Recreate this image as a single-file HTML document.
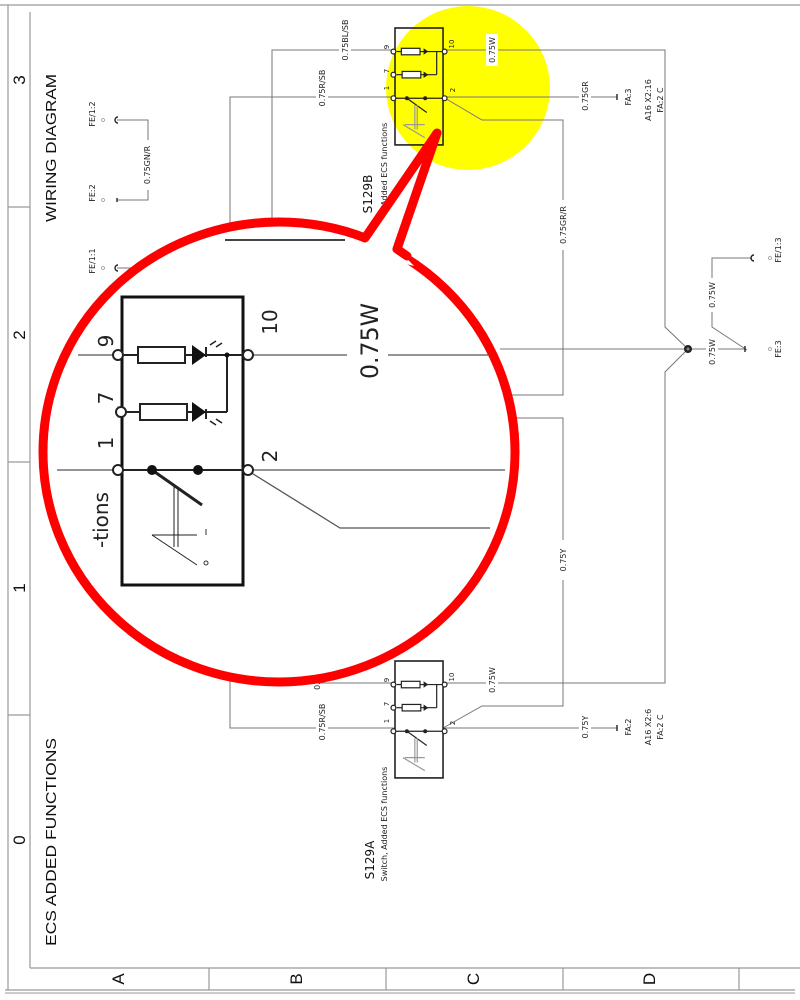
<!DOCTYPE html>
<html><head><meta charset="utf-8"><style>
html,body{margin:0;padding:0;background:#fff;}
svg{display:block;font-family:"DejaVu Sans","Liberation Sans",sans-serif;}
</style></head><body>
<svg width="800" height="1000" viewBox="0 0 800 1000" xmlns="http://www.w3.org/2000/svg">
<rect width="800" height="1000" fill="#fff"/>
<!-- frame -->
<g stroke="#999" stroke-width="1.2" fill="none">
<line x1="0" y1="5" x2="800" y2="5"/>
<line x1="8" y1="5" x2="8" y2="990"/>
<line x1="30" y1="12" x2="30" y2="968"/>
<line x1="8" y1="207" x2="30" y2="207"/>
<line x1="8" y1="462" x2="30" y2="462"/>
<line x1="8" y1="715" x2="30" y2="715"/>
<line x1="30" y1="968" x2="800" y2="968"/>
<line x1="5" y1="990" x2="795" y2="990"/>
<line x1="209" y1="968" x2="209" y2="990"/>
<line x1="386" y1="968" x2="386" y2="990"/>
<line x1="563" y1="968" x2="563" y2="990"/>
<line x1="739" y1="968" x2="739" y2="990"/>
</g>
<line x1="5" y1="993" x2="795" y2="993" stroke="#ccc" stroke-width="2"/>
<g font-family="Liberation Sans,sans-serif" font-size="17" fill="#111" text-anchor="middle">
<text transform="translate(25,80) rotate(-90)">3</text>
<text transform="translate(25,335) rotate(-90)">2</text>
<text transform="translate(25,588) rotate(-90)">1</text>
<text transform="translate(25,840) rotate(-90)">0</text>
<text transform="translate(124,979) rotate(-90)">A</text>
<text transform="translate(302,979) rotate(-90)">B</text>
<text transform="translate(479,979) rotate(-90)">C</text>
<text transform="translate(655,979) rotate(-90)">D</text>
</g>
<g font-family="Liberation Sans,sans-serif" font-size="15" fill="#111">
<text transform="translate(56,222) rotate(-90)" textLength="148" lengthAdjust="spacingAndGlyphs">WIRING DIAGRAM</text>
<text transform="translate(56,946) rotate(-90)" textLength="208" lengthAdjust="spacingAndGlyphs">ECS ADDED FUNCTIONS</text>
</g>

<!-- yellow highlight -->
<circle cx="468" cy="88" r="82" fill="#ffff00"/>

<!-- wires -->
<g stroke="#777" stroke-width="1" fill="none">
<polyline points="395,50 272,50 272,683 395,683"/>
<polyline points="395,97 230,97 230,728 395,728"/>
<polyline points="443,50 665,50 665,327 688,349"/>
<polyline points="443,683 665,683 665,372 688,349"/>
<line x1="443" y1="97" x2="617" y2="97"/>
<line x1="443" y1="728" x2="617" y2="728"/>
<polyline points="443,97 482,120 563,120 563,395 500,395"/>
<polyline points="443,728 482,706 563,706 563,418 500,418"/>
<line x1="500" y1="349" x2="745" y2="349"/>
<polyline points="747,350 712,327 712,258 752,258"/>
<polyline points="117,120 148,120 148,200 117,200"/>
<line x1="117" y1="268" x2="135" y2="268"/>
</g>
<g fill="#fff">
<rect x="339" y="10" width="12" height="60"/>
<rect x="316" y="62" width="12" height="52"/>
<rect x="486" y="34" width="12" height="32"/>
<rect x="579" y="78" width="12" height="36"/>
<rect x="557" y="200" width="12" height="50"/>
<rect x="557" y="540" width="12" height="40"/>
<rect x="316" y="700" width="12" height="46"/>
<rect x="486" y="664" width="12" height="32"/>
<rect x="579" y="712" width="12" height="30"/>
<rect x="141" y="140" width="12" height="50"/>
<rect x="706" y="278" width="12" height="34"/>
<rect x="706" y="334" width="12" height="36"/>
</g>
<g stroke="#222" stroke-width="1.4" fill="none">
<line x1="617" y1="94" x2="617" y2="100"/>
<line x1="617" y1="725" x2="617" y2="731"/>
<line x1="745" y1="346" x2="745" y2="352"/>
<path d="M118,117 a3,3 0 1,0 0,6"/>
<path d="M118,265 a3,3 0 1,0 0,6"/>
<path d="M754,255 a3,3 0 1,0 0,6"/>
<line x1="117" y1="198" x2="117" y2="202"/>
</g>
<circle cx="688" cy="349" r="4" fill="#222"/>
<circle cx="688" cy="349" r="1.5" fill="#888"/>
<g fill="none" stroke="#999" stroke-width="0.8">
<circle cx="103" cy="120" r="1.5"/><circle cx="103" cy="200" r="1.5"/><circle cx="103" cy="268" r="1.5"/>
<circle cx="770" cy="258" r="1.5"/><circle cx="770" cy="349" r="1.5"/>
</g>
<g font-size="8" fill="#222" text-anchor="middle">
<text transform="translate(348,40) rotate(-90)">0.75BL/SB</text>
<text transform="translate(325,88) rotate(-90)">0.75R/SB</text>
<text transform="translate(495,50) rotate(-90)">0.75W</text>
<text transform="translate(588,96) rotate(-90)">0.75GR</text>
<text transform="translate(631,97) rotate(-90)">FA:3</text>
<text transform="translate(651,100) rotate(-90)">A16 X2:16</text>
<text transform="translate(663,100) rotate(-90)">FA:2 C</text>
<text transform="translate(566,225) rotate(-90)">0.75GR/R</text>
<text transform="translate(566,560) rotate(-90)">0.75Y</text>
<text transform="translate(325,722) rotate(-90)">0.75R/SB</text>
<text transform="translate(320,676) rotate(-90)">0.75BL</text>
<text transform="translate(495,680) rotate(-90)">0.75W</text>
<text transform="translate(588,727) rotate(-90)">0.75Y</text>
<text transform="translate(631,727) rotate(-90)">FA:2</text>
<text transform="translate(651,727) rotate(-90)">A16 X2:6</text>
<text transform="translate(663,727) rotate(-90)">FA:2 C</text>
<text transform="translate(150,165) rotate(-90)">0.75GN/R</text>
<text transform="translate(95,114) rotate(-90)">FE/1:2</text>
<text transform="translate(95,193) rotate(-90)">FE:2</text>
<text transform="translate(95,261) rotate(-90)">FE/1:1</text>
<text transform="translate(715,295) rotate(-90)">0.75W</text>
<text transform="translate(715,352) rotate(-90)">0.75W</text>
<text transform="translate(781,250) rotate(-90)">FE/1:3</text>
<text transform="translate(781,349) rotate(-90)">FE:3</text>
<text transform="translate(387,824) rotate(-90)">Switch, Added ECS functions</text>
<text transform="translate(387,180) rotate(-90)">Switch, Added ECS functions</text>
</g>
<g font-size="12" fill="#111" text-anchor="middle">
<text transform="translate(374,860) rotate(-90)">S129A</text>
<text transform="translate(372,194) rotate(-90)">S129B</text>
</g>

<!-- small switch S129B -->
<g transform="translate(395,28) scale(0.397,0.406)">
<rect x="0" y="0" width="121" height="288" fill="none" stroke="#222" stroke-width="4"/>
<g stroke="#222" stroke-width="3" fill="none">
<line x1="4" y1="58" x2="16" y2="58"/><rect x="16" y="50" width="47" height="16" fill="#fff"/>
<line x1="63" y1="58" x2="121" y2="58"/>
<line x1="4" y1="115" x2="18" y2="115"/><rect x="18" y="107" width="47" height="16" fill="#fff"/>
<line x1="65" y1="115" x2="105" y2="115"/>
<line x1="105" y1="58" x2="105" y2="115"/>
<line x1="0" y1="173" x2="121" y2="173"/>
<line x1="30" y1="173" x2="80" y2="208"/>
<line x1="50" y1="190" x2="50" y2="250" stroke="#999"/><line x1="56" y1="190" x2="56" y2="250" stroke="#999"/>
<line x1="25" y1="238" x2="75" y2="238" stroke="#999"/><line x1="20" y1="238" x2="75" y2="270" stroke="#999"/>
<circle cx="-4" cy="58" r="6" fill="#fff"/><circle cx="125" cy="58" r="6" fill="#fff"/>
<circle cx="-4" cy="115" r="6" fill="#fff"/>
<circle cx="-4" cy="173" r="6" fill="#fff"/><circle cx="125" cy="173" r="6" fill="#fff"/>
</g>
<polygon points="72,50 72,66 84,58" fill="#222"/><polygon points="72,107 72,123 84,115" fill="#222"/>
<circle cx="30" cy="173" r="5" fill="#222"/><circle cx="76" cy="173" r="5" fill="#222"/>
</g>
<!-- small switch S129A -->
<g transform="translate(395,661) scale(0.397,0.406)">
<rect x="0" y="0" width="121" height="288" fill="none" stroke="#222" stroke-width="4"/>
<g stroke="#222" stroke-width="3" fill="none">
<line x1="4" y1="58" x2="16" y2="58"/><rect x="16" y="50" width="47" height="16" fill="#fff"/>
<line x1="63" y1="58" x2="121" y2="58"/>
<line x1="4" y1="115" x2="18" y2="115"/><rect x="18" y="107" width="47" height="16" fill="#fff"/>
<line x1="65" y1="115" x2="105" y2="115"/>
<line x1="105" y1="58" x2="105" y2="115"/>
<line x1="0" y1="173" x2="121" y2="173"/>
<line x1="30" y1="173" x2="80" y2="208"/>
<line x1="50" y1="190" x2="50" y2="250" stroke="#999"/><line x1="56" y1="190" x2="56" y2="250" stroke="#999"/>
<line x1="25" y1="238" x2="75" y2="238" stroke="#999"/><line x1="20" y1="238" x2="75" y2="270" stroke="#999"/>
<circle cx="-4" cy="58" r="6" fill="#fff"/><circle cx="125" cy="58" r="6" fill="#fff"/>
<circle cx="-4" cy="115" r="6" fill="#fff"/>
<circle cx="-4" cy="173" r="6" fill="#fff"/><circle cx="125" cy="173" r="6" fill="#fff"/>
</g>
<polygon points="72,50 72,66 84,58" fill="#222"/><polygon points="72,107 72,123 84,115" fill="#222"/>
<circle cx="30" cy="173" r="5" fill="#222"/><circle cx="76" cy="173" r="5" fill="#222"/>
</g>
<g font-size="7" fill="#222" text-anchor="middle">
<text transform="translate(389,47) rotate(-90)">9</text><text transform="translate(454,44) rotate(-90)">10</text>
<text transform="translate(389,71) rotate(-90)">7</text><text transform="translate(389,88) rotate(-90)">1</text>
<text transform="translate(455,90) rotate(-90)">2</text>
<text transform="translate(389,680) rotate(-90)">9</text><text transform="translate(454,677) rotate(-90)">10</text>
<text transform="translate(389,704) rotate(-90)">7</text><text transform="translate(389,721) rotate(-90)">1</text>
<text transform="translate(455,723) rotate(-90)">2</text>
</g>

<!-- callout -->
<ellipse cx="279" cy="452" rx="236" ry="230" fill="#fff" stroke="#ff0000" stroke-width="9"/>
<polygon points="358,252 366,237 437,133 397,248 414,266" fill="#fff"/>
<g stroke="#ff0000" stroke-width="9" stroke-linecap="round" stroke-linejoin="round" fill="none">
<polyline points="365,238 437,133 397,249 407,256"/>
</g>
<line x1="225" y1="240" x2="345" y2="240" stroke="#444" stroke-width="2"/>
<!-- magnified content -->
<g stroke="#555" stroke-width="1.3" fill="none">
<line x1="78" y1="355" x2="118" y2="355"/><line x1="247" y1="355" x2="347" y2="355"/><line x1="388" y1="355" x2="490" y2="355"/>
<line x1="57" y1="470" x2="118" y2="470"/><line x1="247" y1="470" x2="505" y2="470"/>
<polyline points="250,472 340,528 490,528"/>
</g>
<g transform="translate(122,297)">
<rect x="0" y="0" width="121" height="288" fill="none" stroke="#111" stroke-width="3"/>
<g stroke="#222" stroke-width="2" fill="none">
<line x1="-8" y1="58" x2="16" y2="58"/><rect x="16" y="50" width="47" height="16" fill="#fff"/>
<line x1="63" y1="58" x2="121" y2="58"/>
<line x1="4" y1="115" x2="18" y2="115"/><rect x="18" y="107" width="47" height="16" fill="#fff"/>
<line x1="65" y1="115" x2="105" y2="115"/>
<line x1="105" y1="58" x2="105" y2="115"/>
<line x1="0" y1="173" x2="121" y2="173"/>
<line x1="30" y1="173" x2="80" y2="208" stroke-width="3"/>
<line x1="52" y1="190" x2="52" y2="250" stroke-width="1"/><line x1="56" y1="190" x2="56" y2="250" stroke-width="1"/>
<line x1="30" y1="238" x2="75" y2="238" stroke-width="1"/><line x1="30" y1="238" x2="75" y2="268" stroke-width="1"/>
<line x1="84" y1="60" x2="84" y2="50"/><line x1="84" y1="112" x2="84" y2="122"/>
<path d="M88,48 l6,-4 M94,50 l6,-4 M88,124 l6,4 M94,122 l6,4" stroke-width="1.5"/>
<rect x="-4" y="110" width="5" height="10" stroke-width="1"/>
<circle cx="-4" cy="58" r="5" fill="#fff"/><circle cx="126" cy="58" r="5" fill="#fff"/>
<circle cx="-1" cy="115" r="5" fill="#fff"/>
<circle cx="-4" cy="173" r="5" fill="#fff"/><circle cx="126" cy="173" r="5" fill="#fff"/>
</g>
<polygon points="70,48 70,68 84,58" fill="#111"/><polygon points="70,105 70,125 84,115" fill="#111"/>
<circle cx="105" cy="58" r="2.5" fill="#111"/>
<circle cx="30" cy="173" r="5" fill="#111"/><circle cx="76" cy="173" r="5" fill="#111"/>
<circle cx="84" cy="266" r="2" fill="none" stroke="#333" stroke-width="1"/>
<line x1="84" y1="232" x2="84" y2="238" stroke="#333" stroke-width="1"/>
</g>
<g font-size="20" fill="#222" text-anchor="middle">
<text transform="translate(113,341) rotate(-90)">9</text>
<text transform="translate(277,322) rotate(-90)">10</text>
<text transform="translate(113,398) rotate(-90)">7</text>
<text transform="translate(113,443) rotate(-90)">1</text>
<text transform="translate(277,456) rotate(-90)">2</text>
<text transform="translate(108,520) rotate(-90)">-tions</text>
</g>
<text transform="translate(378,341) rotate(-90)" font-size="24" fill="#222" text-anchor="middle" textLength="76" lengthAdjust="spacingAndGlyphs">0.75W</text>
</svg>
</body></html>
